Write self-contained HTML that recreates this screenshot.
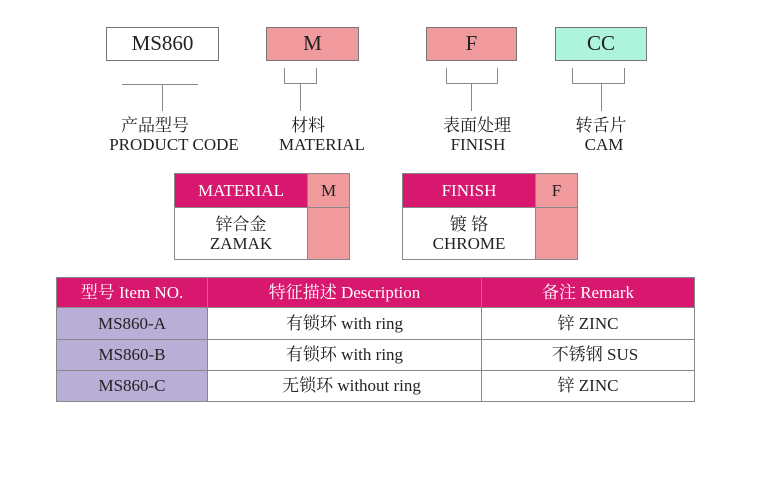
<!DOCTYPE html>
<html><head><meta charset="utf-8"><style>
body{margin:0;background:#fff;width:778px;height:500px;position:relative;overflow:hidden;font-family:"Liberation Serif","Noto Serif CJK SC",serif;color:#222}
.a{position:absolute;box-sizing:border-box}
.box{border:1px solid #777;text-align:center;font-size:21px;line-height:31px}
.ln{position:absolute;background:#888}
.t{position:absolute;text-align:center;white-space:nowrap;font-size:17px;line-height:18px}
.cell{position:absolute;box-sizing:border-box;border:1px solid #888;text-align:center;white-space:nowrap}
.mg{background:#d8176f;color:#fff}
.pk{background:#f09a9e}
.lv{background:#b8aed6}
</style></head><body>
<div class="a box" style="left:106px;top:27px;width:113px;height:34px">MS860</div>
<div class="a box pk" style="left:266px;top:27px;width:93px;height:34px">M</div>
<div class="a box pk" style="left:426px;top:27px;width:91px;height:34px">F</div>
<div class="a box" style="left:555px;top:27px;width:92px;height:34px;background:#aef3dc">CC</div>

<div class="ln" style="left:122px;top:84px;width:76px;height:1px"></div>
<div class="ln" style="left:162px;top:84px;width:1px;height:27px"></div>

<div class="ln" style="left:284px;top:68px;width:1px;height:16px"></div>
<div class="ln" style="left:316px;top:68px;width:1px;height:16px"></div>
<div class="ln" style="left:284px;top:83px;width:33px;height:1px"></div>
<div class="ln" style="left:300px;top:83px;width:1px;height:28px"></div>

<div class="ln" style="left:446px;top:68px;width:1px;height:16px"></div>
<div class="ln" style="left:497px;top:68px;width:1px;height:16px"></div>
<div class="ln" style="left:446px;top:83px;width:52px;height:1px"></div>
<div class="ln" style="left:471px;top:83px;width:1px;height:28px"></div>

<div class="ln" style="left:572px;top:68px;width:1px;height:16px"></div>
<div class="ln" style="left:624px;top:68px;width:1px;height:16px"></div>
<div class="ln" style="left:572px;top:83px;width:53px;height:1px"></div>
<div class="ln" style="left:601px;top:83px;width:1px;height:28px"></div>

<div class="t" style="left:105px;top:117px;width:100px">产品型号</div>
<div class="t" style="left:98px;top:136px;width:152px">PRODUCT CODE</div>
<div class="t" style="left:268px;top:117px;width:80px">材料</div>
<div class="t" style="left:272px;top:136px;width:100px">MATERIAL</div>
<div class="t" style="left:427px;top:117px;width:100px">表面处理</div>
<div class="t" style="left:428px;top:136px;width:100px">FINISH</div>
<div class="t" style="left:561px;top:117px;width:80px">转舌片</div>
<div class="t" style="left:564px;top:136px;width:80px">CAM</div>

<div class="cell mg" style="left:174px;top:173px;width:134px;height:35px;font-size:17px;line-height:33px">MATERIAL</div>
<div class="cell pk" style="left:307px;top:173px;width:43px;height:35px;font-size:17px;line-height:33px">M</div>
<div class="cell" style="left:174px;top:207px;width:134px;height:53px;font-size:17px;line-height:19px;padding-top:7px">锌合金<br>ZAMAK</div>
<div class="cell pk" style="left:307px;top:207px;width:43px;height:53px"></div>

<div class="cell mg" style="left:402px;top:173px;width:134px;height:35px;font-size:17px;line-height:33px">FINISH</div>
<div class="cell pk" style="left:535px;top:173px;width:43px;height:35px;font-size:17px;line-height:33px">F</div>
<div class="cell" style="left:402px;top:207px;width:134px;height:53px;font-size:17px;line-height:19px;padding-top:7px">镀 铬<br>CHROME</div>
<div class="cell pk" style="left:535px;top:207px;width:43px;height:53px"></div>

<div class="cell mg" style="left:56px;top:277px;width:152px;height:31px;font-size:17px;line-height:29px">型号 Item NO.</div>
<div class="cell mg" style="left:207px;top:277px;width:275px;height:31px;font-size:17px;line-height:29px">特征描述 Description</div>
<div class="cell mg" style="left:481px;top:277px;width:214px;height:31px;font-size:17px;line-height:29px">备注 Remark</div>

<div class="cell lv" style="left:56px;top:307px;width:152px;height:33px;font-size:17px;line-height:31px">MS860-A</div>
<div class="cell" style="left:207px;top:307px;width:275px;height:33px;font-size:17px;line-height:31px">有锁环 with ring</div>
<div class="cell" style="left:481px;top:307px;width:214px;height:33px;font-size:17px;line-height:31px">锌 ZINC</div>

<div class="cell lv" style="left:56px;top:339px;width:152px;height:32px;font-size:17px;line-height:30px">MS860-B</div>
<div class="cell" style="left:207px;top:339px;width:275px;height:32px;font-size:17px;line-height:30px">有锁环 with ring</div>
<div class="cell" style="left:481px;top:339px;width:214px;height:32px;font-size:17px;line-height:30px;padding-left:14px">不锈钢 SUS</div>

<div class="cell lv" style="left:56px;top:370px;width:152px;height:32px;font-size:17px;line-height:30px">MS860-C</div>
<div class="cell" style="left:207px;top:370px;width:275px;height:32px;font-size:17px;line-height:30px;padding-left:14px">无锁环 without ring</div>
<div class="cell" style="left:481px;top:370px;width:214px;height:32px;font-size:17px;line-height:30px">锌 ZINC</div>
</body></html>
